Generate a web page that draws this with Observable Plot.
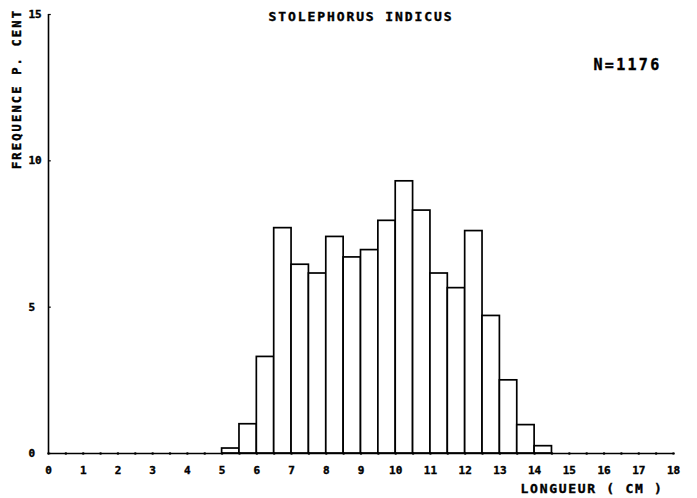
<!DOCTYPE html>
<html><head><meta charset="utf-8">
<script src="https://cdn.jsdelivr.net/npm/d3@7"></script>
<script src="https://cdn.jsdelivr.net/npm/@observablehq/plot@0.6"></script>
<style>
body{margin:0;background:#fff}
svg text{font-family:"DejaVu Sans Mono",monospace;font-weight:bold;stroke:#000;stroke-width:0.4px}
</style></head><body><div id="chart"></div>
<script>
const title = "STOLEPHORUS INDICUS";
const sampleLabel = "N=1176";
const xLabel = "LONGUEUR ( CM )";
const yLabel = "FREQUENCE P. CENT";
const binStart = [5, 5.5, 6, 6.5, 7, 7.5, 8, 8.5, 9, 9.5, 10, 10.5, 11, 11.5, 12, 12.5, 13, 13.5, 14];
const binWidth = 0.5;
const percent = [0.17, 1.0, 3.3, 7.7, 6.45, 6.15, 7.4, 6.7, 6.95, 7.95, 9.3, 8.3, 6.15, 5.65, 7.6, 4.7, 2.5, 0.97, 0.25];
const xTicks = [0,1,2,3,4,5,6,7,8,9,10,11,12,13,14,15,16,17,18];
const yTicks = [0, 5, 10, 15];
const baseMarks = d3.range(0, 18.5, 0.5);

const bins = binStart.map((x, i) => ({x1: x, x2: x + binWidth, y: percent[i]}));

const chart = Plot.plot({
  width: 697,
  height: 498,
  marginLeft: 48,
  marginRight: 24,
  marginTop: 14,
  marginBottom: 45,
  x: {domain: [0, 18], axis: null},
  y: {domain: [0, 15], axis: null},
  style: {background: "#fff", color: "#000"},
  marks: [
    Plot.rectY(bins, {x1: "x1", x2: "x2", y: "y", fill: "white", stroke: "black", strokeWidth: 1.7}),
    Plot.ruleY([0], {x1: xTicks[0], x2: xTicks[xTicks.length - 1], stroke: "black", strokeWidth: 1.5}),
    Plot.ruleX([0], {y1: yTicks[0], y2: yTicks[yTicks.length - 1], stroke: "black", strokeWidth: 1.6}),
    Plot.dot(baseMarks, {x: d => d, y: 0, r: 1.3, fill: "black", stroke: null}),
    Plot.ruleY(yTicks, {y: d => d, x1: 0, x2: 0.08, stroke: "black", strokeWidth: 1.2}),
    Plot.text(xTicks, {x: d => d, frameAnchor: "bottom", dy: 17, textAnchor: "middle", lineAnchor: "middle", fontSize: 11}),
    Plot.text(yTicks, {y: d => d, frameAnchor: "left", dx: -20, textAnchor: "start", lineAnchor: "middle", fontSize: 11}),
    Plot.text([title], {frameAnchor: "top", dy: 2, textAnchor: "middle", lineAnchor: "middle", fontSize: 13}),
    Plot.text([sampleLabel], {frameAnchor: "top-right", dx: -12, dy: 51, textAnchor: "end", lineAnchor: "middle", fontSize: 15}),
    Plot.text([xLabel], {frameAnchor: "bottom-right", dx: -10, dy: 35, textAnchor: "end", lineAnchor: "middle", fontSize: 13}),
    Plot.text([yLabel], {frameAnchor: "left", dx: -31, dy: -145, rotate: -90, textAnchor: "middle", lineAnchor: "middle", fontSize: 12})
  ]
});
const spacing = new Map([[title, 1.9], [sampleLabel, 2.3], [yLabel, 2.2], [xLabel, 1.7]]);
d3.select(chart).selectAll("text").each(function() {
  const s = spacing.get(this.textContent);
  if (s !== undefined) this.style.letterSpacing = s + "px";
});
document.getElementById("chart").appendChild(chart);
</script>
</body></html>
